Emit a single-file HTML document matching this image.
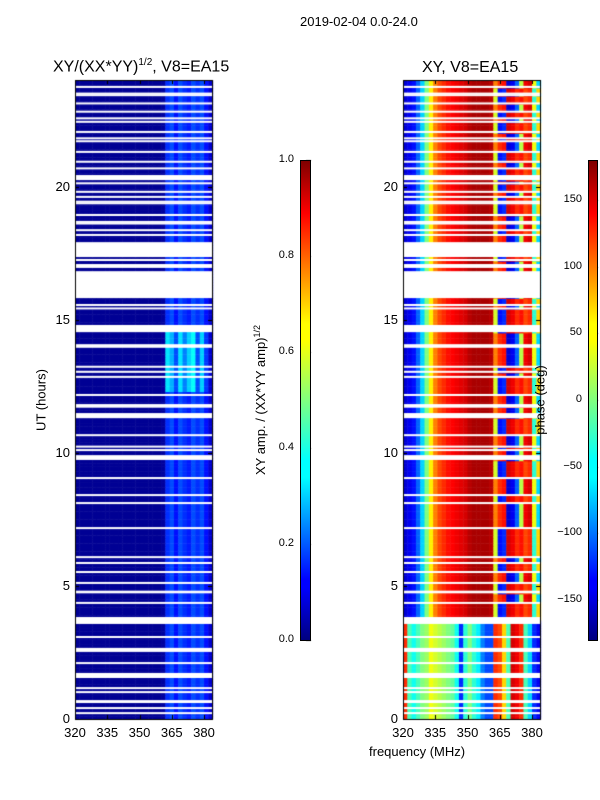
<!DOCTYPE html>
<html><head><meta charset="utf-8">
<style>
body{margin:0;background:#fff;}
#root{position:relative;width:600px;height:800px;background:#fff;font-family:"Liberation Sans","DejaVu Sans",sans-serif;color:#000;overflow:hidden;}
.t{position:absolute;white-space:nowrap;}
.cb{position:absolute;border:1px solid #000;box-sizing:border-box;background:linear-gradient(to top,#00007f 0%,#0000ff 11%,#0000ff 12.5%,#00ffff 34%,#00ffff 37.5%,#ffff00 62.5%,#ffff00 66%,#ff0000 89%,#7f0000 100%);}
</style></head>
<body>
<div id="root">
<div class="t" style="left:300px;top:14px;font-size:13px;">2019-02-04 0.0-24.0</div>
<div class="t" style="left:53px;top:57px;font-size:16px;">XY/(XX*YY)<sup style="font-size:10px;">1/2</sup>, V8=EA15</div>
<div class="t" style="left:422px;top:59px;font-size:16px;">XY, V8=EA15</div>
<canvas id="cv" width="600" height="800" style="position:absolute;left:0;top:0;"></canvas>
<div class="cb" style="left:300px;top:160px;width:11px;height:481px;"></div>
<div class="cb" style="left:588px;top:160px;width:10px;height:481px;"></div>
<div class="t" style="left:260px;top:400px;font-size:13px;transform:translate(-50%,-50%) rotate(-90deg);">XY amp. / (XX*YY amp)<sup style="font-size:9px;">1/2</sup></div>
<div class="t" style="left:540px;top:400px;font-size:13px;transform:translate(-50%,-50%) rotate(-90deg);">phase (deg)</div>
<div class="t" style="left:41px;top:400px;font-size:13px;transform:translate(-50%,-50%) rotate(-90deg);">UT (hours)</div>
<div class="t" style="left:369px;top:744px;font-size:13px;">frequency (MHz)</div>
<div id="labels"></div>
</div>
<script>
// ---- data ----
const freqBins=[321,323,325,327,329,331,333,335,337,339,341,343,345,347,349,351,353,355,357,359,361,363,365,367,369,371,373,375,377,379,381,383];
const phaseHigh=[-150,-140,-130,-100,-60,0,50,90,110,120,130,135,140,145,150,160,165,165,165,165,160,30,-130,-120,150,140,120,130,110,120,-30,60];
const phaseHighAlt=[-150,-140,-130,-100,-60,0,50,90,110,120,130,135,140,145,150,160,165,165,165,165,160,90,120,130,-150,-140,-100,20,140,150,40,-60];
const phaseLow=[120,-20,-40,-20,0,10,40,30,20,10,0,-10,-40,-120,-30,0,-30,-50,-90,-110,-110,120,110,60,-20,150,140,120,-20,-60,-120,-140];
const ampBase=[0.02,0.02,0.02,0.02,0.02,0.02,0.02,0.02,0.02,0.02,0.02,0.02,0.02,0.02,0.02,0.02,0.02,0.02,0.02,0.02,0.03,0.17,0.2,0.14,0.2,0.17,0.15,0.2,0.17,0.2,0.14,0.08];
const ampBright=[0.02,0.02,0.02,0.02,0.02,0.02,0.02,0.02,0.02,0.02,0.02,0.02,0.02,0.02,0.02,0.02,0.02,0.02,0.02,0.02,0.03,0.35,0.3,0.2,0.35,0.25,0.33,0.38,0.2,0.33,0.18,0.08];
const thinGaps=[23.74,23.49,23.43,23.12,22.81,22.56,22.43,22.05,21.81,21.70,21.30,20.93,20.68,20.12,19.80,19.61,19.43,19.37,18.93,18.67,18.61,18.36,18.18,17.24,17.05,16.98,15.55,15.42,14.04,13.98,13.23,13.04,12.85,12.17,11.79,11.73,10.66,10.23,10.10,9.05,8.41,8.11,7.17,6.08,5.86,5.52,5.11,4.36,3.08,2.1,1.16,1.01,0.41,0.22];
const thickGaps=[[17.35,17.91],[15.81,16.82],[14.53,14.8],[20.24,20.43],[11.30,11.49],[9.73,9.91],[4.72,4.82],[3.57,3.83],[2.52,2.67],[1.54,1.73],[0.60,0.71]];
const lowRegimeTop=3.7;
const brightBand=[12.2,14.5];
const yTicks=[0,5,10,15,20];
const xTicks=[320,335,350,365,380];
const ampTicks=[0.0,0.2,0.4,0.6,0.8,1.0];
const phaseTicks=[-150,-100,-50,0,50,100,150];
// ---- scales ----
const panels=[{x0:75,x1:212,name:'amp'},{x0:403,x1:540,name:'phase'}];
const yTop=80,yBot=719;
function yS(h){return yBot-(h/24)*(yBot-yTop);}
function xS(p,f){return p.x0+(f-320)/(383.7-320)*(p.x1-p.x0);}
function jet(v){v=Math.max(0,Math.min(1,v));
 const r=Math.max(0,Math.min(1,1.5-Math.abs(4*v-3))),g=Math.max(0,Math.min(1,1.5-Math.abs(4*v-2))),b=Math.max(0,Math.min(1,1.5-Math.abs(4*v-1)));
 return 'rgb('+Math.round(r*255)+','+Math.round(g*255)+','+Math.round(b*255)+')';}
const cv=document.getElementById('cv');const ctx=cv.getContext('2d');
const segBounds=thickGaps.map(g=>g[0]).concat(thinGaps).sort((a,b)=>a-b);
function segIdx(h){let i=0;for(const b of segBounds){if(h>b)i++;}return i;}
const dh=0.1;
for(let h=0;h<24;h+=dh){
 const y1=yS(h+dh),y0=yS(h);const si=segIdx(h+dh/2);
 freqBins.forEach((f,i)=>{
  let p=panels[0];
  let a=(h>brightBand[0]&&h<brightBand[1])?ampBright[i]:ampBase[i];
  ctx.fillStyle=jet(a);
  ctx.fillRect(xS(p,f-1),y1,xS(p,f+1)-xS(p,f-1)+0.5,y0-y1+0.5);
  p=panels[1];
  let ph=h<lowRegimeTop?phaseLow[i]:(si%2?phaseHighAlt[i]:phaseHigh[i]);
  ctx.fillStyle=jet((ph+180)/360);
  ctx.fillRect(xS(p,f-1),y1,xS(p,f+1)-xS(p,f-1)+0.5,y0-y1+0.5);
 });
}
ctx.fillStyle='#fff';
panels.forEach(p=>{
 thinGaps.forEach(g=>{ctx.fillRect(p.x0,yS(g)-1,p.x1-p.x0,2);});
 thickGaps.forEach(g=>{ctx.fillRect(p.x0,yS(g[1]),p.x1-p.x0,yS(g[0])-yS(g[1]));});
});
ctx.strokeStyle='#000';ctx.lineWidth=1;
const L=document.getElementById('labels');
function label(txt,x,y,align,name,size){const d=document.createElement('div');d.className='t';d.textContent=txt;
 
 
 d.style.fontSize=(size||13)+'px';d.style.top=(y-8)+'px';
 if(align==='right'){d.style.right=(600-x)+'px';}else if(align==='center'){d.style.left=x+'px';d.style.transform='translateX(-50%)';}else{d.style.left=x+'px';}
 L.appendChild(d);}
panels.forEach(p=>{
 ctx.strokeRect(p.x0+0.5,yTop+0.5,p.x1-p.x0,yBot-yTop);
 yTicks.forEach(t=>{const y=Math.round(yS(t))+0.5;ctx.beginPath();ctx.moveTo(p.x0,y);ctx.lineTo(p.x0+4,y);ctx.moveTo(p.x1,y);ctx.lineTo(p.x1-4,y);ctx.stroke();
  label(String(t),p.x0-5,yS(t),'right','y-tick-label');});
 xTicks.forEach(t=>{const x=Math.round(xS(p,t))+0.5;ctx.beginPath();ctx.moveTo(x,yBot);ctx.lineTo(x,yBot-4);ctx.moveTo(x,yTop);ctx.lineTo(x,yTop+4);ctx.stroke();
  label(String(t),xS(p,t),733,'center','x-tick-label');});
});
ampTicks.forEach(t=>{const y=640-t*480;ctx.beginPath();ctx.moveTo(306,Math.round(y)+0.5);ctx.lineTo(311,Math.round(y)+0.5);ctx.stroke();
 label(t.toFixed(1),294,y+1,'right','amp-colorbar-tick',11);});
phaseTicks.forEach(t=>{const y=400-t*480/360;ctx.beginPath();ctx.moveTo(593,Math.round(y)+0.5);ctx.lineTo(598,Math.round(y)+0.5);ctx.stroke();
 label(t<0?'\u2212'+(-t):String(t),582,y+1,'right','phase-colorbar-tick',11);});
</script>
</body></html>
